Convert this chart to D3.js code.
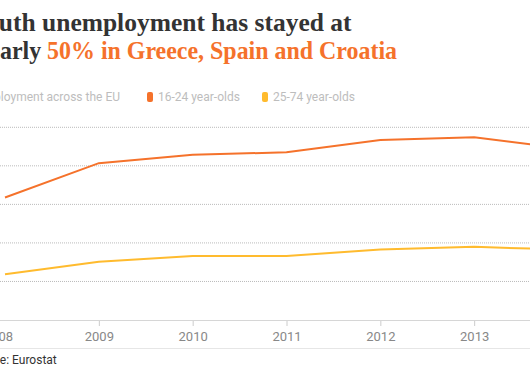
<!DOCTYPE html>
<html>
<head>
<meta charset="utf-8">
<script src="https://cdn.jsdelivr.net/npm/d3@7"></script>
<style>
  html, body { margin: 0; padding: 0; background: #fff; overflow: hidden; }
  svg { display: block; }
</style>
</head>
<body>
<svg id="chart"></svg>
<script>
const width = 530;
const height = 380;

// Data (unemployment rate, %)
const years = [2008, 2009, 2010, 2011, 2012, 2013, 2014];
const youth = [31.8, 40.7, 42.9, 43.5, 46.7, 47.4, 44.4];   // 16-24 year-olds
const adults = [11.9, 15.1, 16.6, 16.6, 18.3, 19.0, 18.2];  // 25-74 year-olds
const gridValues = [10, 20, 30, 40, 50];
const tickYears = [2008, 2009, 2010, 2011, 2012, 2013];
const seriesNames = ["16-24 year-olds", "25-74 year-olds"];

const orange = "#f5722b";
const yellow = "#ffbb2e";

const svg = d3.select("#chart")
    .attr("width", width)
    .attr("height", height);

// the view is a crop of a wider graphic, so the left edge sits off-screen
const x = d3.scaleLinear()
    .domain([2008, 2014])
    .range([5, 568]);

const y = d3.scaleLinear()
    .domain([0, 50])
    .range([320, 127.3]);

// Title (squeezed a little so the line ends land where the original's do)
const title = svg.append("g")
    .attr("font-family", "'Liberation Serif', serif")
    .attr("font-weight", "bold")
    .attr("font-size", 25)
    .attr("fill", "#333");

const line1 = title.append("text")
    .attr("x", -29.5).attr("y", 31)
    .text("Youth unemployment has stayed at");
fitText(line1, 381);

const line2 = title.append("text")
    .attr("x", -24).attr("y", 59);
const t2a = line2.append("tspan").text("nearly ");
const t2b = line2.append("tspan").attr("fill", orange).text("50% in Greece, Spain and Croatia");
const w2a = t2a.node().getComputedTextLength();
const w2b = t2b.node().getComputedTextLength();
const k2 = 421 / (w2a + w2b);
t2a.attr("textLength", w2a * k2).attr("lengthAdjust", "spacingAndGlyphs");
t2b.attr("textLength", w2b * k2).attr("lengthAdjust", "spacingAndGlyphs");

function fitText(sel, target) {
    sel.attr("textLength", target).attr("lengthAdjust", "spacingAndGlyphs");
}

// Legend
const legend = svg.append("g")
    .attr("font-family", "Roboto, sans-serif")
    .attr("font-size", 12)
    .attr("fill", "#bdbdbd");
legend.append("text")
    .attr("x", 120).attr("y", 101)
    .attr("text-anchor", "end")
    .text("Unemployment across the EU");
const legendX = [147, 262];
[orange, yellow].forEach((c, i) => {
    legend.append("rect")
        .attr("x", legendX[i]).attr("y", 92)
        .attr("width", 6).attr("height", 10)
        .attr("rx", 2)
        .attr("fill", c);
    legend.append("text")
        .attr("x", legendX[i] + 11).attr("y", 101)
        .text(seriesNames[i]);
});

// Gridlines
svg.append("g")
    .selectAll("line")
    .data(gridValues)
    .join("line")
    .attr("x1", -30).attr("x2", width + 30)
    .attr("y1", d => y(d)).attr("y2", d => y(d))
    .attr("stroke", "#bbb")
    .attr("stroke-width", 1)
    .attr("stroke-dasharray", "1,1");

// X axis
const xAxis = svg.append("g")
    .attr("transform", `translate(0,${y(0)})`)
    .call(d3.axisBottom(x)
        .tickValues(tickYears)
        .tickFormat(d3.format("d"))
        .tickSize(6)
        .tickPadding(6));
xAxis.select(".domain").remove();
xAxis.selectAll(".tick line").attr("stroke", "#ccc");
xAxis.selectAll(".tick text")
    .attr("font-family", "Roboto, sans-serif")
    .attr("font-size", 13)
    .attr("fill", "#888");
// first year has no tick mark and its label sits a little further left
xAxis.selectAll(".tick").filter(d => d === 2008).select("line").remove();
xAxis.selectAll(".tick").filter(d => d === 2008).select("text").attr("dx", -7);

svg.append("line")
    .attr("x1", -30).attr("x2", width + 30)
    .attr("y1", y(0) + 0.5).attr("y2", y(0) + 0.5)
    .attr("stroke", "#d6d6d6");

// Lines
const line = d3.line()
    .x((d, i) => x(years[i]))
    .y(d => y(d));

svg.append("path")
    .datum(adults)
    .attr("d", line)
    .attr("fill", "none")
    .attr("stroke", yellow)
    .attr("stroke-width", 2);

svg.append("path")
    .datum(youth)
    .attr("d", line)
    .attr("fill", "none")
    .attr("stroke", orange)
    .attr("stroke-width", 2);

// Footer
svg.append("line")
    .attr("x1", -30).attr("x2", width + 30)
    .attr("y1", 348.5).attr("y2", 348.5)
    .attr("stroke", "#e6e6e6");

svg.append("text")
    .attr("x", -31).attr("y", 364)
    .attr("font-family", "Roboto, sans-serif")
    .attr("font-size", 12)
    .attr("fill", "#333")
    .text("Source: Eurostat");
</script>
</body>
</html>
